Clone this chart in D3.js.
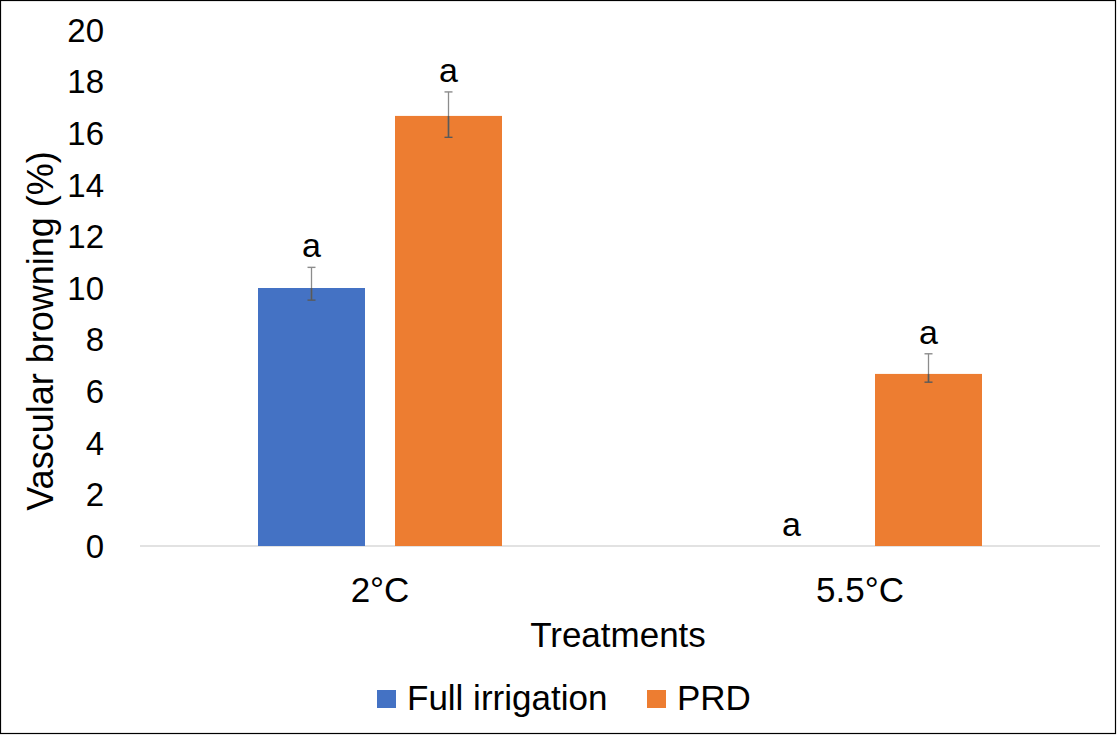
<!DOCTYPE html>
<html><head><meta charset="utf-8">
<script src="https://cdn.jsdelivr.net/npm/d3@7"></script>
<style>body{margin:0;background:#fff}svg{display:block}text{font-family:"Liberation Sans",Arial,sans-serif;fill:#000}</style>
</head><body><svg id="c" width="1117" height="735"></svg>
<script>
const categories = ["2°C", "5.5°C"];
const seriesNames = ["Full irrigation", "PRD"];
const fullIrrigation = [10, 0];
const prd = [16.67, 6.67];
const fullErrLow = [0.47, 0];
const fullErrHigh = [0.8, 0];
const prdErrLow = [0.83, 0.32];
const prdErrHigh = [0.93, 0.78];
const letters = [["a", "a"], ["a", "a"]];
const yTicks = [0, 2, 4, 6, 8, 10, 12, 14, 16, 18, 20];
const colors = ["#4472c4", "#ed7d31"];

const svg = d3.select("#c");
svg.append("rect").attr("x",0.5).attr("y",0.5).attr("width",1115).attr("height",733)
  .attr("fill","#fff").attr("stroke","#000").attr("stroke-width",1.2);

const m = {left:140, right:1100, top:30, bottom:546};
const x0 = d3.scaleBand().domain(categories).range([m.left, m.right]).padding(0);
const x1 = d3.scaleBand().domain(seriesNames).range([0, 244]).paddingInner(0.219);
const y = d3.scaleLinear().domain([0, 20]).range([m.bottom, m.top]);

const values = [fullIrrigation, prd];
const errL = [fullErrLow, prdErrLow];
const errH = [fullErrHigh, prdErrHigh];

// y tick labels
svg.append("g").selectAll("text").data(yTicks).join("text")
  .attr("x", 104).attr("y", d => y(d)).attr("dy", "0.36em")
  .attr("text-anchor","end").attr("font-size", 33).text(d => d);

// axis line
svg.append("line").attr("x1", m.left).attr("x2", m.right)
  .attr("y1", y(0)).attr("y2", y(0)).attr("stroke","#d9d9d9").attr("stroke-width",1.5);

const bandOff = (x0.bandwidth() - 244) / 2;
seriesNames.forEach((s, si) => {
  const g = svg.append("g");
  categories.forEach((c, ci) => {
    const v = values[si][ci];
    const bx = x0(c) + bandOff + x1(s);
    const bw = x1.bandwidth();
    const cx = bx + bw / 2;
    if (v > 0) {
      g.append("rect").attr("x", bx).attr("y", y(v)).attr("width", bw)
        .attr("height", y(0) - y(v)).attr("fill", colors[si]);
    }
    const lo = errL[si][ci], hi = errH[si][ci];
    if (lo > 0 || hi > 0) {
      g.append("line").attr("x1", cx).attr("x2", cx).attr("y1", y(v + hi)).attr("y2", y(v - lo))
        .attr("stroke", "#8c8c8c").attr("stroke-width", 1.3);
      g.append("line").attr("x1", cx).attr("x2", cx).attr("y1", y(v)).attr("y2", y(v - lo))
        .attr("stroke", "#595959").attr("stroke-width", 1.6);
      [v + hi, v - lo].forEach((ev, k) => {
        g.append("line").attr("x1", cx - 4).attr("x2", cx + 4).attr("y1", y(ev)).attr("y2", y(ev))
          .attr("stroke", k === 0 ? "#8c8c8c" : "#595959").attr("stroke-width", 1.4);
      });
    }
    g.append("text").attr("x", cx).attr("y", y(v + hi) - 10)
      .attr("text-anchor", "middle").attr("font-size", 34).text(letters[si][ci]);
  });
});

// x category labels
svg.append("g").selectAll("text").data(categories).join("text")
  .attr("x", d => x0(d) + x0.bandwidth() / 2).attr("y", 602)
  .attr("text-anchor","middle").attr("font-size", 35).text(d => d);

// axis titles
svg.append("text").attr("x", 618).attr("y", 647).attr("text-anchor","middle")
  .attr("font-size", 35).text("Treatments");
svg.append("text").attr("transform", "translate(53,331) rotate(-90)").attr("text-anchor","middle")
  .attr("font-size", 36).text("Vascular browning (%)");

// legend
const legX = [377, 647];
seriesNames.forEach((s, i) => {
  svg.append("rect").attr("x", legX[i]).attr("y", 690).attr("width", 19).attr("height", 18).attr("fill", colors[i]);
  svg.append("text").attr("x", legX[i] + 30).attr("y", 710).attr("font-size", 35).text(s);
});
</script></body></html>
